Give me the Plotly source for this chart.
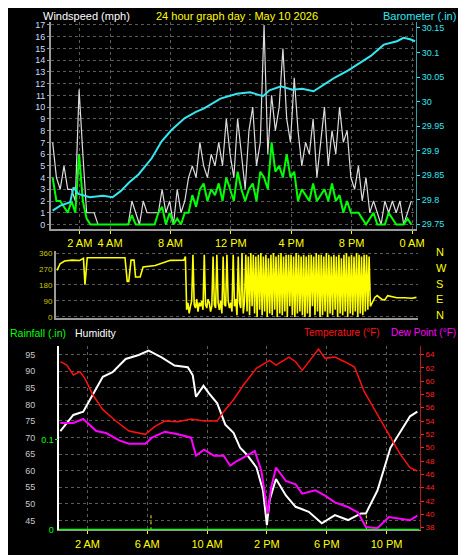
import numpy as np
import plotly.graph_objects as go

# ---------------- data ----------------
# wind (15-min samples)
wind_t = list(np.arange(0.2, 24.2, 0.25))
gust = [7,4,3,5, 3,3,2,11.5, 6,1,1,1, 0,0,0,0, 0,0,0,0, 0,2,1,0,
        2,1,1,1, 1,3,1,2, 0,3,1,2, 4,5,4,7, 5,4,6,5, 7,5,9,6,
        4,9,6,3, 8,10,5,7, 17,6,11,8, 10,15,9,7, 12.5,8,5,7, 6,9,4,7,
        10,5,8,6, 10,7,8,4, 3,5,2,4, 1,2,1,0, 2,1,2,1, 2,0,1,2]
avg = [4,2,2,1.5, 1,2,1,6, 2,0.5,0,0, 0,0,0,0, 0,0,0,0, 0,0.8,0,0,
       0,0,0,0, 1,1.5,0,1, 0,0.5,0,1, 1,2.5,1.5,3, 3.5,2,3,2.5, 3.5,2,4,3,
       2,4.5,3,2, 3,3.5,2,4.5, 4,3,7,4.5, 5,4,6,4, 4.5,2,3,2.5, 2,3.5,2,2.5,
       3,2,3.5,2, 2.5,1,2,1, 1,1,0.5,0, 0.5,1,0,0, 0,1,0.5,0, 0,0,0.5,0]

baro_t = [0.2,0.71,1.36,1.58,1.9,2.66,3.52,4.17,4.72,5.26,5.9,6.77,7.42,8.07,8.93,9.69,
          10.23,11.31,12.4,13.27,14.13,14.56,15.32,16.08,16.73,17.48,18.24,18.89,19.75,
          20.4,21.27,22.13,23.0,23.44,23.87,24.2]
baro = [29.778,29.788,29.795,29.825,29.812,29.805,29.808,29.805,29.818,29.835,29.852,29.885,
        29.919,29.942,29.966,29.979,29.986,30.006,30.016,30.019,30.011,30.023,30.031,30.024,
        30.026,30.021,30.036,30.049,30.063,30.076,30.093,30.116,30.123,30.13,30.127,30.123]

# wind direction
dir_t_early = [0.5,0.7,1.0,1.5,2.0,2.25,2.35,2.5,3.5,5.0,5.15,5.25,5.4,5.6,5.7,6.0,6.2,7.0,8.0,8.9]
dir_early = [262,300,315,320,318,330,182,334,334,334,200,200,320,320,225,225,281,290,319,320]
dir_mid = [340,40,80,20,60,90,350,70,50,100,30,80,
           60,90,40,350,70,50,100,80,30,60,340,70,
           50,350,80,40,90,20,340,70,60,350,90,50,
           80,30,350,60,100,10,340,80,50,360,20,90,
           350,30,340,10,360,60,350,20,340,0,350,40,
           360,10,340,30,350,0,330,20,350,10,360,40,
           340,0,350,20,360,10,340,30,350,0,350,60,
           350,10,340,0,360,20,350,30,340,10,350,0,
           340,20,350,0,350,60,340,10,360,30,350,0,
           350,10,340,30,360,0,350,20,340,10,350,40,
           340,0,350,20,330,10,350,30,360,0,340,20,
           350,10,340,30,360,0,350,20,340,10,350,30,
           350,40,340,60]
dir_t_mid = list(9.0 + np.arange(len(dir_mid)) / 12)
dir_t_late = [21.55,21.7,22.0,22.2,22.4,22.6,23.0,23.5,24.0,24.3]
dir_late = [110,120,100,95,120,115,108,108,105,110]

# bottom panel
hum_t = [0.19,1.06,1.72,2.37,3.03,3.68,4.56,5.43,6.09,6.96,7.83,8.71,9.04,9.26,9.76,10.13,
         10.68,11.22,11.77,12.21,12.65,13.3,13.74,14.0,14.18,14.61,15.27,15.92,16.8,17.67,
         18.55,19.42,20.29,20.62,21.39,22.26,22.92,23.57,24.06]
hum = [71.9,76.8,77.8,82.8,88.3,89.7,93.7,94.9,96.2,94.2,91.7,91.2,88.8,82.3,85.6,83.3,
       80.3,73.9,71.4,66.9,64.9,61.0,54.0,43.6,51.1,57.5,52.5,49.1,47.6,44.1,
       46.6,45.1,47.1,47.1,54.0,66.9,71.9,76.4,77.8]

temp_t = [0.19,0.62,1.06,1.50,1.83,2.37,3.03,3.90,4.78,5.87,6.52,7.18,8.05,8.93,9.80,10.68,
          11.11,11.77,12.43,13.30,14.18,14.61,15.48,15.92,16.36,16.80,17.45,17.89,18.55,
          19.20,19.86,20.51,21.39,22.26,22.92,23.57,24.06]
temp = [62.9,62.4,60.9,61.4,60.4,57.9,55.7,54.0,52.5,52.0,53.2,54.0,53.9,54.3,54.0,54.0,
        55.4,57.2,59.4,61.9,63.1,62.4,63.6,62.9,61.6,62.9,64.8,63.4,63.6,
        62.9,62.1,58.4,54.9,51.5,49.0,47.0,46.5]

dew_t = [0.19,1.06,1.72,2.59,3.25,4.12,4.78,5.87,6.31,7.18,8.05,8.93,9.26,9.80,10.46,11.11,
         11.55,11.99,12.43,13.19,13.63,14.06,14.28,14.61,15.27,15.92,16.36,17.24,17.89,
         18.55,19.42,20.08,20.62,21.39,22.15,22.92,23.57,24.06]
dew = [53.7,53.7,54.3,52.5,52.2,51.1,50.6,50.6,51.5,52.4,52.0,51.5,48.8,49.7,48.8,48.8,
       47.3,48.0,48.5,49.5,46.5,40.1,44.0,47.0,45.0,44.5,43.1,43.6,42.8,
       41.8,41.1,40.3,38.1,37.9,39.6,39.3,39.1,39.8]

rain_t = [0.1, 24.2]
rain = [0, 0]
rain_mark_t = [6.25, 20.65]

hour_ticks_top = [2, 4, 8, 12, 16, 20, 24]
hour_labels_top = ["2 AM", "4 AM", "8 AM", "12 PM", "4 PM", "8 PM", "0 AM"]
hour_ticks_bot = [2, 6, 10, 14, 18, 22]
hour_labels_bot = ["2 AM", "6 AM", "10 AM", "2 PM", "6 PM", "10 PM"]
baro_ticks = [29.75, 29.8, 29.85, 29.9, 29.95, 30.0, 30.05, 30.1, 30.15]
baro_labels = ["29.75", "29.8", "29.85", "29.9", "29.95", "30", "30.05", "30.1", "30.15"]

# ---------------- figure ----------------
F = "Liberation Sans"
GRID = "#5a5a5a"
fig = go.Figure()
fig.add_trace(go.Scatter(x=wind_t, y=gust, mode="lines", line=dict(color="#dcdcdc", width=1.2), xaxis="x", yaxis="y"))
fig.add_trace(go.Scatter(x=wind_t, y=avg, mode="lines", line=dict(color="#00ff00", width=2), xaxis="x", yaxis="y"))
fig.add_trace(go.Scatter(x=baro_t, y=baro, mode="lines", line=dict(color="#33e6f0", width=2), xaxis="x", yaxis="y2"))
fig.add_trace(go.Scatter(x=dir_t_early + dir_t_mid + dir_t_late, y=dir_early + dir_mid + dir_late,
                         mode="lines", line=dict(color="#ffff00", width=1.6), xaxis="x2", yaxis="y3"))
for mt in rain_mark_t:
    fig.add_trace(go.Scatter(x=[mt, mt], y=[42, 47], mode="lines", line=dict(color="#ffff00", width=1, dash="dot"),
                             xaxis="x3", yaxis="y4"))
fig.add_trace(go.Scatter(x=hum_t, y=hum, mode="lines", line=dict(color="#ffffff", width=2), xaxis="x3", yaxis="y4"))
fig.add_trace(go.Scatter(x=temp_t, y=temp, mode="lines", line=dict(color="#ff1010", width=1.5), xaxis="x3", yaxis="y6"))
fig.add_trace(go.Scatter(x=dew_t, y=dew, mode="lines", line=dict(color="#ff00ff", width=2), xaxis="x3", yaxis="y6"))
fig.add_trace(go.Scatter(x=rain_t, y=rain, mode="lines", line=dict(color="#00ff00", width=3), xaxis="x3", yaxis="y5"))

grid = dict(showgrid=True, gridcolor=GRID, griddash="dot", gridwidth=1, zeroline=False)

fig.update_layout(
    width=466, height=555, margin=dict(l=0, r=0, t=0, b=0),
    paper_bgcolor="black", plot_bgcolor="black", showlegend=False,
    font=dict(family=F, size=10, color="white"),
    xaxis=dict(domain=[0.0944, 0.8927], range=[0.1, 24.26], anchor="y", tickvals=hour_ticks_top,
               ticktext=hour_labels_top, tickfont=dict(family=F, size=11, color="#ffff00"), ticks="outside",
               tickcolor="#ffff00", ticklen=3, showline=True, linecolor="#9a9a9a", linewidth=2, **grid),
    yaxis=dict(domain=[0.6, 0.978], range=[-0.4, 17.25], tickvals=list(range(18)), tickfont=dict(family=F, size=9, color="#c8dcff"),
               showline=True, linecolor="#9a9a9a", linewidth=2, ticks="outside", tickcolor="#9a9a9a", ticklen=2, **grid),
    yaxis2=dict(overlaying="y", side="right", anchor="x", range=[29.74, 30.162], tickvals=baro_ticks, ticktext=baro_labels,
                tickfont=dict(family=F, size=9, color="#33e6f0"), showgrid=False, zeroline=False, showline=True,
                linecolor="#33a0a0", ticks="outside", tickcolor="#33e6f0", ticklen=3),
    xaxis2=dict(domain=[0.105, 0.897], range=[0.43, 24.4], anchor="y3", showticklabels=False, showgrid=False,
                zeroline=False, showline=True, linecolor="#9a9a9a", linewidth=2),
    yaxis3=dict(domain=[0.438, 0.560], range=[-6, 371], anchor="x2", tickvals=[0, 90, 180, 270, 360],
                tickfont=dict(family=F, size=8, color="#c8c800"), showline=True, linecolor="#9a9a9a", linewidth=2, **grid),
    xaxis3=dict(domain=[0.1116, 0.9013], range=[0.1, 24.23], anchor="y4", tickvals=hour_ticks_bot, ticktext=hour_labels_bot,
                tickfont=dict(family=F, size=11, color="#ffff00"), ticks="outside", tickcolor="#ffff00", ticklen=3,
                showline=True, linecolor="#9a9a9a", linewidth=1, **grid),
    yaxis4=dict(domain=[0.0505, 0.3874], range=[42, 97.7], anchor="x3", tickvals=[45, 50, 55, 60, 65, 70, 75, 80, 85, 90, 95],
                tickfont=dict(family=F, size=9, color="#c8c8c8"), showline=True, linecolor="#ffffff", linewidth=2,
                ticklabelstandoff=20, **grid),
    yaxis5=dict(overlaying="y4", anchor="free", position=0.1, side="left", range=[0, 0.203], tickvals=[0, 0.1],
                ticktext=["0", "0.1"], tickfont=dict(family=F, size=9, color="#00ff00"), showgrid=False, zeroline=False,
                ticks="inside", tickcolor="#00ff00", ticklen=3),
    yaxis6=dict(overlaying="y4", side="right", anchor="x3", range=[37.6, 65.3], tickvals=list(range(38, 65, 2)),
                tickfont=dict(family=F, size=8, color="#ff2020"), showgrid=False, zeroline=False, showline=True,
                linecolor="#aa2020", ticks="outside", tickcolor="#ff2020", ticklen=3),
)

def ann(text, x, y, color, xanchor="left", size=11):
    fig.add_annotation(text=text, x=x, y=y, xref="paper", yref="paper", xanchor=xanchor, yanchor="middle",
                       showarrow=False, font=dict(family=F, size=size, color=color))

ann("Windspeed (mph)", 34 / 466, 1 - 6 / 555, "#ffffff")
ann("24 hour graph day : May 10 2026", 0.5, 1 - 6 / 555, "#ffff00", "center")
ann("Barometer (.in)", 0.985, 1 - 6 / 555, "#33e6f0", "right")
for i, d in enumerate(["N", "W", "S", "E", "N"]):
    ann(d, 434 / 466, 1 - (245 + 16 * i) / 555, "#ffff00", size=11)
ann("Rainfall (.in)", 0.0, 1 - 327 / 555, "#00ff00", size=10.5)
ann("Humidity", 66 / 466, 1 - 327 / 555, "#ffffff", size=10.5)
ann("Temperature (°F)", 300 / 466, 1 - 327 / 555, "#ff1010", size=10)
ann("Dew Point (°F)", 0.985, 1 - 327 / 555, "#ff00ff", "right", size=10)

fig.write_html("out.html")
